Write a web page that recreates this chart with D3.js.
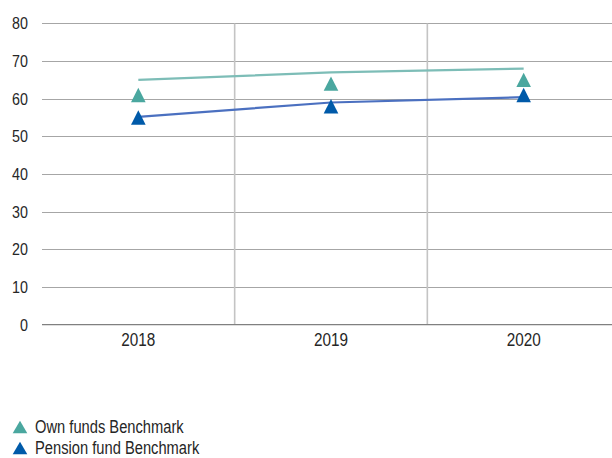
<!DOCTYPE html>
<html>
<head>
<meta charset="utf-8">
<script src="https://cdn.jsdelivr.net/npm/d3@7"></script>
<style>
  html, body { margin: 0; padding: 0; background: #fff; }
  svg { display: block; }
  text { font-family: "Liberation Sans", Arial, sans-serif; fill: #262626; }
</style>
</head>
<body>
<svg id="chart" width="612" height="458"></svg>
<script>
// Years on the category axis
const years = ["2018", "2019", "2020"];
// Benchmark markers (triangles)
const ownFundsMarkers = [61, 64, 65];
const pensionFundMarkers = [55, 58, 61];
// Benchmark lines
const ownFundsLine = [65, 67, 68];
const pensionFundLine = [55.2, 59, 60.4];
// Value-axis ticks
const yTicks = [0, 10, 20, 30, 40, 50, 60, 70, 80];
// Legend entries
const legendLabels = ["Own funds Benchmark", "Pension fund Benchmark"];

const colors = {
  ownMarker: "#4aa79f",
  ownLine: "#7dbdb7",
  penMarker: "#005aa9",
  penLine: "#4b70c0"
};

// Narrow the typeface horizontally to a condensed look
function condense(sel, factor) {
  sel.each(function () {
    const w = this.getComputedTextLength();
    d3.select(this)
      .attr("textLength", w * factor)
      .attr("lengthAdjust", "spacingAndGlyphs");
  });
}

const svg = d3.select("#chart");

const x = d3.scaleBand().domain(years).range([42, 620]).padding(0);
const y = d3.scaleLinear().domain([0, 80]).range([324.7, 23.4]);

// Horizontal gridlines
svg.append("g")
  .selectAll("line")
  .data(yTicks.filter(d => d !== 0))
  .join("line")
  .attr("x1", 42).attr("x2", 612)
  .attr("y1", d => Math.round(y(d)) + 0.5).attr("y2", d => Math.round(y(d)) + 0.5)
  .attr("stroke", "#a6a6a6").attr("stroke-width", 1);

// Vertical separators between categories
svg.append("g")
  .selectAll("line")
  .data(years.slice(1))
  .join("line")
  .attr("x1", d => x(d)).attr("x2", d => x(d))
  .attr("y1", y(80)).attr("y2", y(0))
  .attr("stroke", "#c4c4c4").attr("stroke-width", 1.6);

// Zero baseline
svg.append("line")
  .attr("x1", 42).attr("x2", 612)
  .attr("y1", y(0)).attr("y2", y(0))
  .attr("stroke", "#808080").attr("stroke-width", 1.3);

// Y axis labels
const yAxis = d3.axisLeft(y).tickValues(yTicks).tickSize(0).tickPadding(0);
const yg = svg.append("g").attr("transform", "translate(28,0)").call(yAxis);
yg.select(".domain").remove();
yg.selectAll("text")
  .attr("font-size", 17)
  .attr("font-family", "Liberation Sans, Arial, sans-serif")
  .attr("fill", "#262626")
  .call(condense, 0.84);

// X axis labels
const xAxis = d3.axisBottom(x).tickSize(0).tickPadding(0);
const xg = svg.append("g").attr("transform", "translate(0,333)").call(xAxis);
xg.select(".domain").remove();
xg.selectAll("text")
  .attr("font-size", 18)
  .attr("font-family", "Liberation Sans, Arial, sans-serif")
  .attr("fill", "#262626")
  .call(condense, 0.85);

const cx = d => x(d) + x.bandwidth() / 2;

// Benchmark lines
const line = d3.line().x(d => cx(d.year)).y(d => y(d.value));
function drawLine(values, color) {
  svg.append("path")
    .datum(years.map((yr, i) => ({ year: yr, value: values[i] })))
    .attr("d", line)
    .attr("fill", "none")
    .attr("stroke", color)
    .attr("stroke-width", 2.2);
}
drawLine(ownFundsLine, colors.ownLine);
drawLine(pensionFundLine, colors.penLine);

// Triangle marker path centred on (0,0)
function triangle(w, h) {
  return `M0,${-h / 2}L${w / 2},${h / 2}L${-w / 2},${h / 2}Z`;
}
function drawMarkers(values, color) {
  svg.append("g")
    .selectAll("path")
    .data(years.map((yr, i) => ({ year: yr, value: values[i] })))
    .join("path")
    .attr("d", triangle(14.6, 14.4))
    .attr("transform", d => `translate(${cx(d.year)},${y(d.value)})`)
    .attr("fill", color);
}
drawMarkers(ownFundsMarkers, colors.ownMarker);
drawMarkers(pensionFundMarkers, colors.penMarker);

// Legend
const legendColors = [colors.ownMarker, colors.penMarker];
const lg = svg.append("g");
legendLabels.forEach((label, i) => {
  const cyL = 427 + i * 21;
  lg.append("path")
    .attr("d", triangle(14.6, 12.6))
    .attr("transform", `translate(20,${cyL})`)
    .attr("fill", legendColors[i]);
  lg.append("text")
    .attr("x", 35)
    .attr("y", cyL + 6.4)
    .attr("font-size", 17.5)
    .text(label)
    .call(condense, 0.84);
});
</script>
</body>
</html>
